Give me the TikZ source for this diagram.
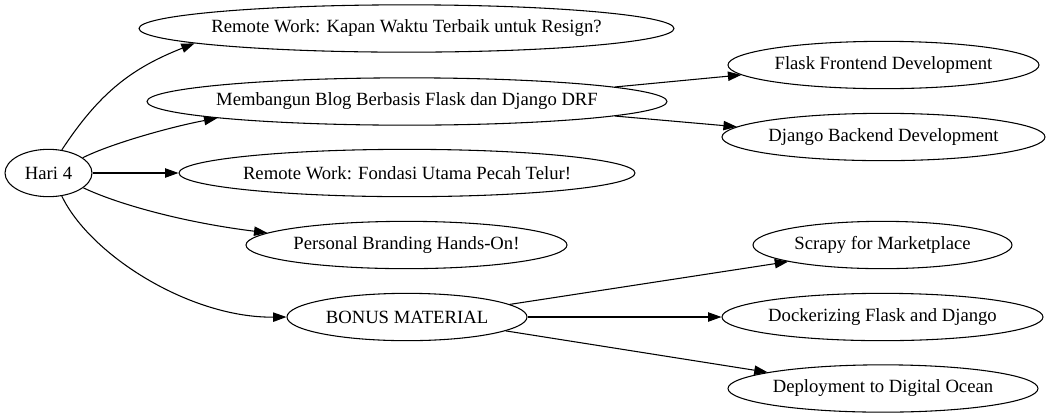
\documentclass[tikz,border=0pt]{standalone}
\usepackage{fontspec}
\setmainfont{Liberation Serif}
\usetikzlibrary{shapes.geometric,arrows.meta}
\newcommand\zb[1]{\makebox[0pt]{#1}}
\begin{document}
\begin{tikzpicture}[x=0.75pt,y=-0.75pt]
\tikzset{
  gnode/.style={draw, ellipse, line width=0.8pt, inner sep=0pt,
    font=\fontsize{14pt}{16pt}\selectfont, minimum height=35.5pt},
  edge/.style={draw, line width=0.8pt, -{Triangle[length=10pt,width=7pt]}},
}
\useasboundingbox (0,0) rectangle (1050,419);
\node[gnode, minimum width=65.25pt] (hari) at (48.5,173) {\zb{Hari 4}};
\node[gnode, minimum width=401.25pt] (kapan) at (406.5,28.5) {\zb{Remote Work: Kapan Waktu Terbaik untuk Resign?}};
\node[gnode, minimum width=390pt] (blog) at (407,101.5) {\zb{Membangun Blog Berbasis Flask dan Django DRF}};
\node[gnode, minimum width=342pt] (fondasi) at (407,173) {\zb{Remote Work: Fondasi Utama Pecah Telur!}};
\node[gnode, minimum width=240.75pt] (personal) at (406.5,245) {\zb{Personal Branding Hands-On!}};
\node[gnode, minimum width=180pt] (bonus) at (407,317) {\zb{BONUS MATERIAL}};
\node[gnode, minimum width=233.25pt] (flask) at (883.5,65) {\zb{Flask Frontend Development}};
\node[gnode, minimum width=242.25pt] (django) at (883.5,137) {\zb{Django Backend Development}};
\node[gnode, minimum width=194.25pt] (scrapy) at (882.5,245) {\zb{Scrapy for Marketplace}};
\node[gnode, minimum width=240.75pt] (docker) at (882.5,317) {\zb{Dockerizing Flask and Django}};
\node[gnode, minimum width=232.5pt] (deploy) at (883,388.5) {\zb{Deployment to Digital Ocean}};

\draw[edge] (hari.60) .. controls (99.5,92.5) and (132,68) .. (kapan.184);
\draw[edge] (hari.24) .. controls (110,144) and (170,127) .. (blog.185);
\draw[edge] (hari) -- (fondasi);
\draw[edge] (hari.-23.5) .. controls (115,203) and (180,222) .. (personal.175);
\draw[edge] (hari.-60) .. controls (90,255) and (190,318) .. (bonus.180);
\draw[edge] (blog.4.4) -- (flask.184);
\draw[edge] (blog.-4.1) -- (django.176);
\draw[edge] (bonus.7.2) -- (scrapy.190.4);
\draw[edge] (bonus) -- (docker);
\draw[edge] (bonus.-8.9) -- (deploy.172.1);
\end{tikzpicture}
\end{document}
